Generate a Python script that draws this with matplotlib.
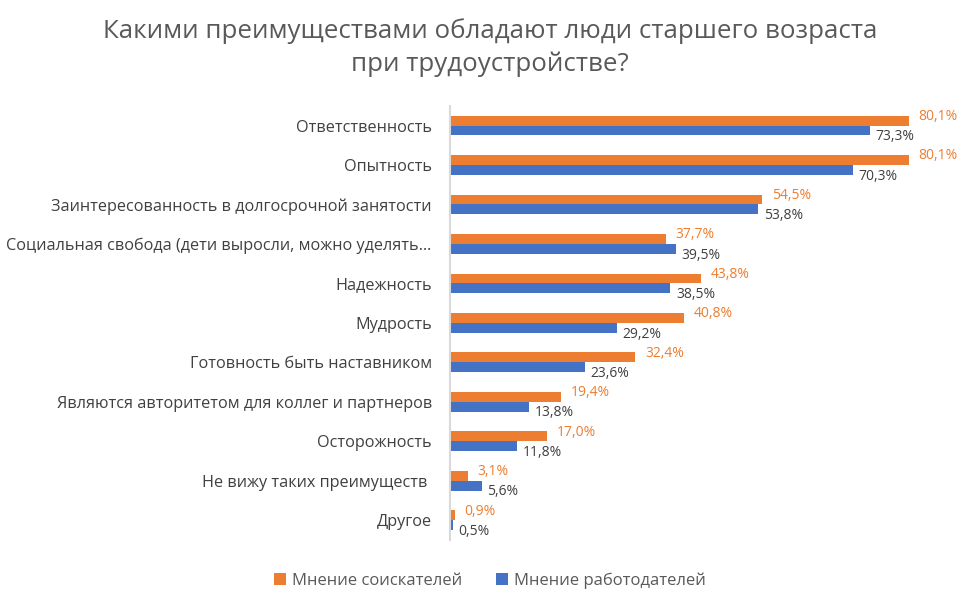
import matplotlib.pyplot as plt
import numpy as np

plt.rcParams['font.family'] = ['Open Sans', 'DejaVu Sans']

categories = [
    'Ответственность',
    'Опытность',
    'Заинтересованность в долгосрочной занятости',
    'Социальная свобода (дети выросли, можно уделять…',
    'Надежность',
    'Мудрость',
    'Готовность быть наставником',
    'Являются авторитетом для коллег и партнеров',
    'Осторожность',
    'Не вижу таких преимуществ ',
    'Другое',
]
applicants = [80.1, 80.1, 54.5, 37.7, 43.8, 40.8, 32.4, 19.4, 17.0, 3.1, 0.9]
employers = [73.3, 70.3, 53.8, 39.5, 38.5, 29.2, 23.6, 13.8, 11.8, 5.6, 0.5]

orange = '#ED7D31'
blue = '#4472C4'

fig = plt.figure(figsize=(9.8, 6.08), dpi=100)
ax = fig.add_axes([0.459, 0.112, 0.497, 0.714])

y = np.arange(len(categories))
h = 0.25
ax.barh(y - h / 2, applicants, height=h, color=orange, label='Мнение соискателей')
ax.barh(y + h / 2, employers, height=h, color=blue, label='Мнение работодателей')

def fmt(v):
    return f'{v:.1f}%'.replace('.', ',')

for i in range(len(categories)):
    ax.annotate(fmt(applicants[i]), (applicants[i], y[i] - h / 2), xytext=(7, 3),
                textcoords='offset points', va='center', ha='left',
                fontsize=10, color=orange)
    ax.annotate(fmt(employers[i]), (employers[i], y[i] + h / 2), xytext=(4, -4.5),
                textcoords='offset points', va='center', ha='left',
                fontsize=10, color='#404040')

ax.set_xlim(0, 85)
ax.set_ylim(len(categories) - 0.5, -0.5)
ax.set_yticks(y)
ax.set_yticklabels(categories, fontsize=11.7, color='#404040')
ax.tick_params(axis='y', length=0, pad=13)
ax.set_xticks([])
for s in ['top', 'right', 'bottom']:
    ax.spines[s].set_visible(False)
ax.spines['left'].set_color('#d9d9d9')
ax.spines['left'].set_linewidth(1.5)

fig.text(0.5, 0.922, 'Какими преимуществами обладают люди старшего возраста\nпри трудоустройстве?',
         ha='center', va='center', fontsize=18.6, color='#595959', linespacing=1.4)

handles, labels = ax.get_legend_handles_labels()
fig.legend(handles, labels, loc='center', bbox_to_anchor=(0.5, 0.045), ncol=2,
           frameon=False, fontsize=12, labelcolor='#595959',
           handlelength=0.7, handleheight=0.7, handletextpad=0.4, columnspacing=2.0)

fig.savefig('out.png', dpi=100)
